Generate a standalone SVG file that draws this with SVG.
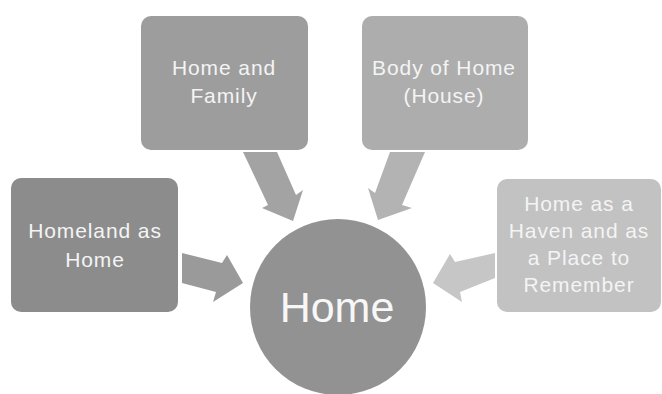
<svg xmlns="http://www.w3.org/2000/svg" width="662" height="394" viewBox="0 0 662 394">
<style>
.lbl{font-family:"Liberation Sans",Arial,sans-serif;font-size:21px;fill:#f4f4f4;text-anchor:middle;letter-spacing:0.9px}
.big{font-family:"Liberation Sans",Arial,sans-serif;font-size:43px;fill:#f7f7f7;text-anchor:middle}
</style>
<rect width="662" height="394" fill="#ffffff"/>
<g id="connectors">
<polygon points="182,253 222,263 227,255 243,283 213,302 216,292 182,283" fill="#9a9a9a"/>
<polygon points="243,152 277,152 296,195 303,190 293,221 262,208 268,205" fill="#a3a3a3"/>
<polygon points="390,152 425,152 402,205 412,208 378,220 368,188 375,193" fill="#b3b3b3"/>
<polygon points="495,253 455,262 450,254 433,283 462,302 460,292 495,278" fill="#c6c6c6"/>
</g>
<g id="center">
<circle cx="338" cy="307" r="88" fill="#929292"/>
<text class="big" x="337" y="322">Home</text>
</g>
<g id="homeland">
<rect x="11" y="178" width="167" height="134" rx="10" fill="#8c8c8c"/>
<text class="lbl" x="95" y="238">Homeland as</text>
<text class="lbl" x="95" y="267">Home</text>
</g>
<g id="family">
<rect x="141" y="16" width="167" height="134" rx="10" fill="#9d9d9d"/>
<text class="lbl" x="224" y="75">Home and</text>
<text class="lbl" x="224" y="103">Family</text>
</g>
<g id="body">
<rect x="362" y="16" width="166" height="134" rx="10" fill="#adadad"/>
<text class="lbl" x="444" y="75">Body of Home</text>
<text class="lbl" x="444" y="103">(House)</text>
</g>
<g id="haven">
<rect x="497" y="179" width="164" height="133" rx="10" fill="#c2c2c2"/>
<text class="lbl" x="579" y="211">Home as a</text>
<text class="lbl" x="579" y="238">Haven and as</text>
<text class="lbl" x="579" y="265">a Place to</text>
<text class="lbl" x="579" y="292">Remember</text>
</g>
</svg>
